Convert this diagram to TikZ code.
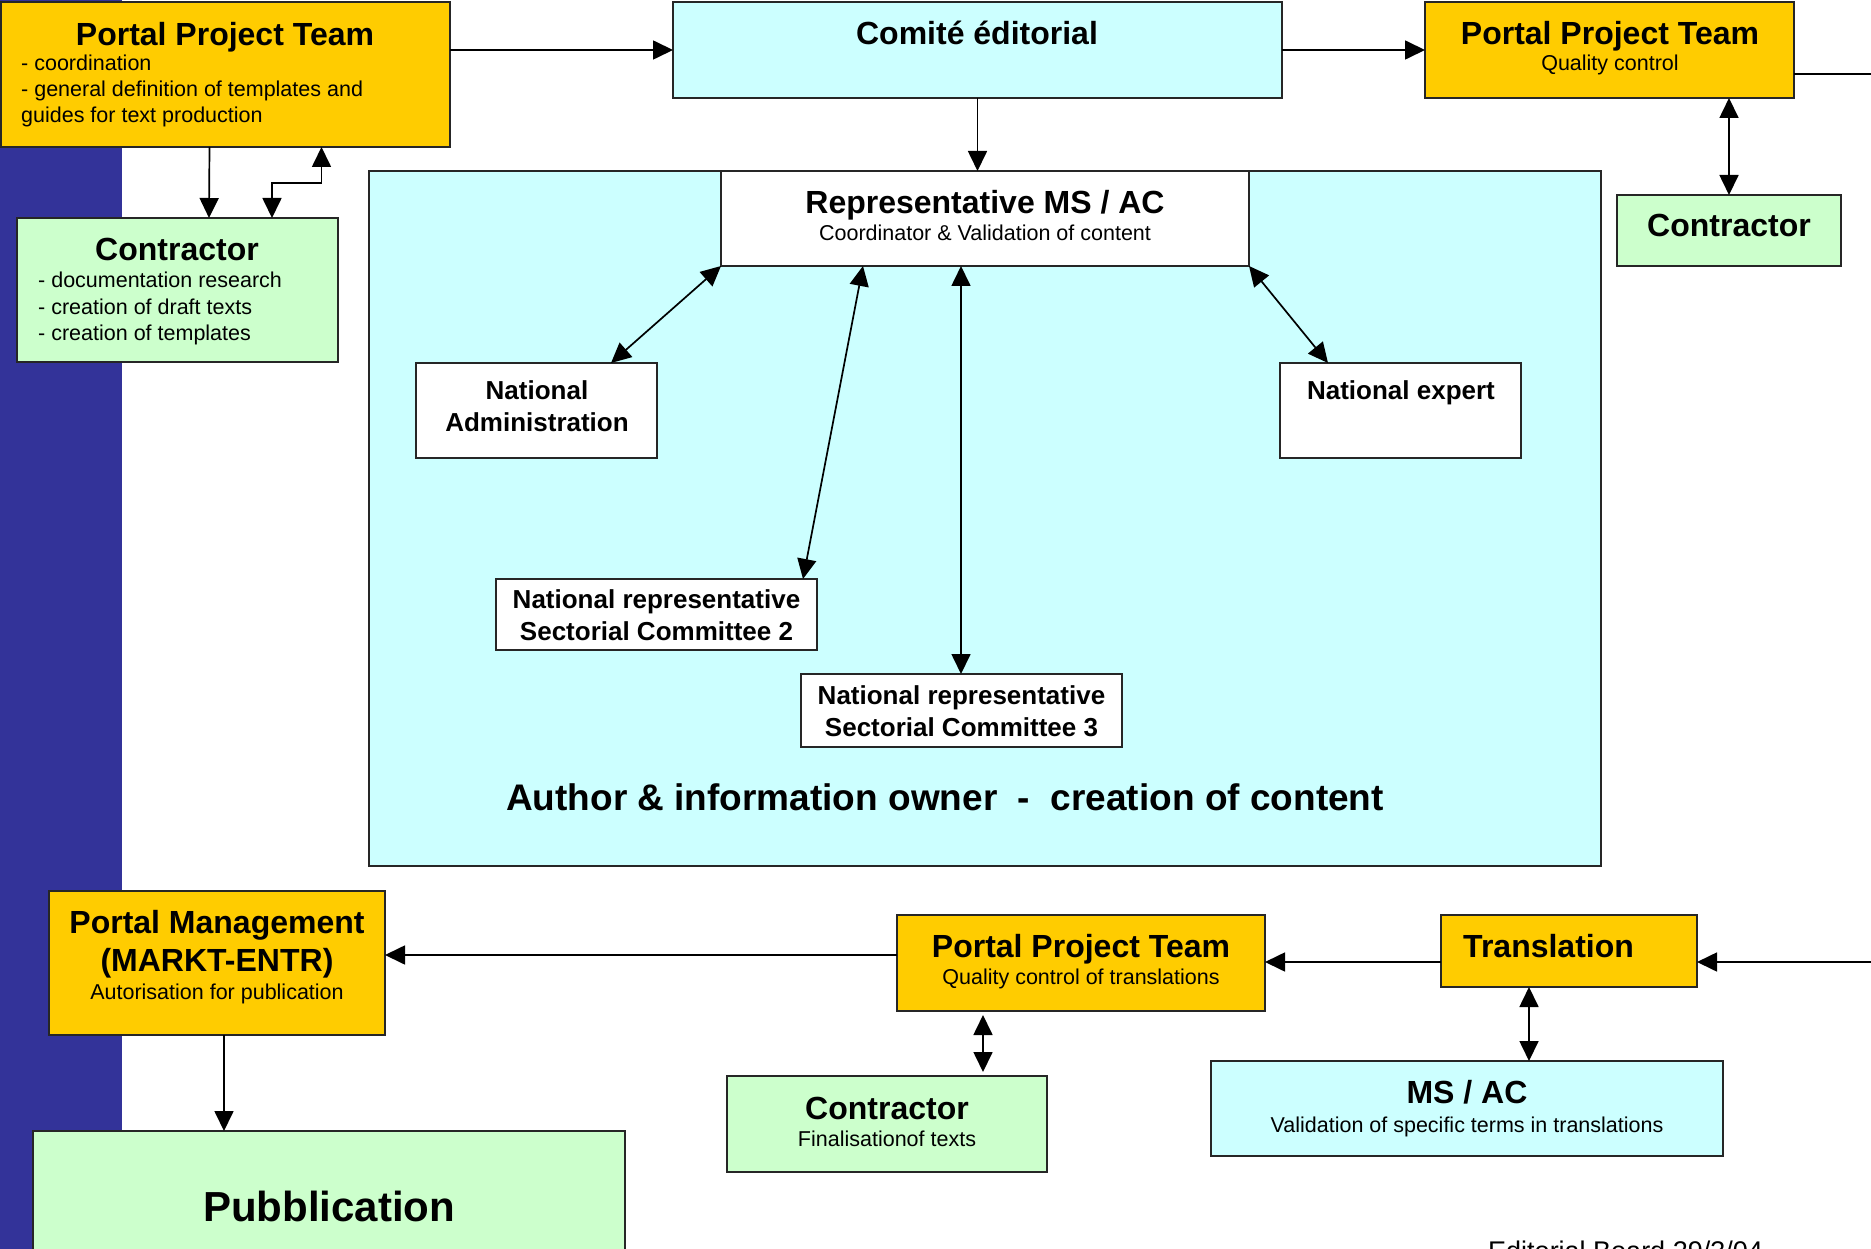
\documentclass[tikz,border=0pt]{standalone}
\usepackage{fontspec}
\setmainfont{Liberation Sans}
\usetikzlibrary{arrows.meta}
\definecolor{gold}{HTML}{FFCC00}
\definecolor{cyanl}{HTML}{CCFFFF}
\definecolor{greenl}{HTML}{CCFFCC}
\definecolor{barblue}{HTML}{333399}
\newcommand{\FtT}{\fontsize{32}{36}\selectfont\bfseries}
\newcommand{\FtS}{\fontsize{21.5}{25}\selectfont}
\newcommand{\FtN}{\fontsize{26}{30}\selectfont\bfseries}
\newcommand{\FtA}{\fontsize{37}{42}\selectfont\bfseries}
\newcommand{\FtP}{\fontsize{42}{48}\selectfont\bfseries}
\newcommand{\FtF}{\fontsize{27}{30}\selectfont}
\newcommand{\Bx}[6]{\node[#6, anchor=north west, minimum width={(#4-#2)*1pt}, minimum height={(#5-#3)*1pt}] (#1) at (#2,#3) {};}
\begin{document}
\begin{tikzpicture}[x=1pt,y=-1pt,
  box/.style={draw=black!85, line width=2pt, inner sep=0pt, outer sep=0pt},
  gbox/.style={box, fill=gold}, cbox/.style={box, fill=cyanl},
  lbox/.style={box, fill=greenl}, wbox/.style={box, fill=white},
  lbl/.style={inner sep=0pt, anchor=base},
  lbw/.style={inner sep=0pt, anchor=base west},
  con/.style={line width=1.7pt, draw=black},
  arr/.style={con, -{Triangle[length=20pt,width=19pt]}},
  darr/.style={con, {Triangle[length=20pt,width=19pt]}-{Triangle[length=20pt,width=19pt]}}]
\useasboundingbox (0,0) rectangle (1871,1249);
\clip (0,0) rectangle (1871,1249);
\fill[barblue] (0,0) rectangle (122,1249);

% boxes
\Bx{big}{369}{171}{1601}{866}{cbox}
\Bx{ppta}{1}{2}{450}{147}{gbox}
\Bx{com}{673}{2}{1282}{98}{cbox}
\Bx{pptb}{1425}{2}{1794}{98}{gbox}
\Bx{ctl}{17}{218}{338}{362}{lbox}
\Bx{ctr}{1617}{195}{1841}{266}{lbox}
\Bx{rep}{721}{171}{1249}{266}{wbox}
\Bx{na}{416}{363}{657}{458}{wbox}
\Bx{ne}{1280}{363}{1521}{458}{wbox}
\Bx{sca}{496}{579}{817}{650}{wbox}
\Bx{scb}{801}{674}{1122}{747}{wbox}
\Bx{pm}{49}{891}{385}{1035}{gbox}
\Bx{pptc}{897}{915}{1265}{1011}{gbox}
\Bx{tr}{1441}{915}{1697}{987}{gbox}
\Bx{cb}{727}{1076}{1047}{1172}{lbox}
\Bx{ms}{1211}{1061}{1723}{1156}{cbox}
\Bx{pub}{33}{1131}{625}{1280}{lbox}

% texts
\node[lbl] (ppta-t) at (225,46) {\FtT Portal Project Team};
\node[lbw] (ppta-a) at (21,71) {\FtS - coordination};
\node[lbw] (ppta-b) at (21,97) {\FtS - general definition of templates and};
\node[lbw] (ppta-c) at (21,123) {\FtS guides for text production};

\node[lbl] (com-t) at (977,45) {\FtT Comité éditorial};

\node[lbl] (pptb-t) at (1610,45) {\FtT Portal Project Team};
\node[lbl] (pptb-s) at (1610,71) {\FtS Quality control};

\node[lbl] (ctl-t) at (177,261) {\FtT Contractor};
\node[lbw] (ctl-a) at (38,288) {\FtS - documentation research};
\node[lbw] (ctl-b) at (38,314) {\FtS - creation of draft texts};
\node[lbw] (ctl-c) at (38,340) {\FtS - creation of templates};

\node[lbl] (ctr-t) at (1729,237) {\FtT Contractor};

\node[lbl] (rep-t) at (985,214) {\FtT Representative MS / AC};
\node[lbl] (rep-s) at (985,241) {\FtS Coordinator \& Validation of content};

\node[lbl] (na-a) at (537,399) {\FtN National};
\node[lbl] (na-b) at (537,431) {\FtN Administration};
\node[lbl] (ne-t) at (1401,399) {\FtN National expert};
\node[lbl] (sca-a) at (656.5,608) {\FtN National representative};
\node[lbl] (sca-b) at (656.5,640) {\FtN Sectorial Committee 2};
\node[lbl] (scb-a) at (961.5,704) {\FtN National representative};
\node[lbl] (scb-b) at (961.5,736) {\FtN Sectorial Committee 3};

\node[lbl] (auth) at (945,810) {\FtA Author \& information owner\ \ -\ \ creation of content};

\node[lbl] (pm-a) at (217,933) {\FtT Portal Management};
\node[lbl] (pm-b) at (217,971) {\FtT (MARKT-ENTR)};
\node[lbl] (pm-s) at (217,999) {\FtS Autorisation for publication};

\node[lbl] (pptc-t) at (1081,957) {\FtT Portal Project Team};
\node[lbl] (pptc-s) at (1081,984) {\FtS Quality control of translations};

\node[lbw] (tr-t) at (1463,957) {\FtT Translation};

\node[lbl] (cb-t) at (887,1119) {\FtT Contractor};
\node[lbl] (cb-s) at (887,1146) {\FtS Finalisationof texts};

\node[lbl] (ms-t) at (1467,1103) {\FtT MS / AC};
\node[lbl] (ms-s) at (1467,1132) {\FtS Validation of specific terms in translations};

\node[lbl] (pub-t) at (329,1221) {\FtP Pubblication};

\node[lbw] (foot) at (1488,1260) {\FtF Editorial Board 29/3/04};

% connectors
\coordinate (redgeA) at (1871,74);
\coordinate (redgeB) at (1871,962);
\draw[arr] (com.west -| ppta.east) -- (com.west);
\draw[arr] (com.east) -- (pptb.west);
\draw[con] ([yshift=-24pt]pptb.east) -- (redgeA);
\draw[arr] (com.south) -- (com.south |- rep.north);
\draw[arr] ([xshift=-16pt]ppta.south) -- ([xshift=31.5pt]ctl.north);
\draw[darr] ([xshift=94.5pt]ctl.north) -- ++(0,-35) -| ([xshift=96pt]ppta.south);
\draw[darr] ([xshift=119.5pt]pptb.south) -- (ctr.north);
\draw[darr] (rep.south west) -- ([xshift=74.5pt]na.north);
\draw[darr] ([xshift=-122pt]rep.south) -- ([xshift=146.5pt]sca.north);
\draw[darr] ([xshift=-24pt]rep.south) -- ([xshift=-0.5pt]scb.north);
\draw[darr] (rep.south east) -- ([xshift=-72.5pt]ne.north);
\draw[arr] (redgeB) -- (redgeB -| tr.east);
\draw[arr] (redgeB -| tr.west) -- (redgeB -| pptc.east);
\draw[arr] ([yshift=8pt]pptc.west) -- ([yshift=8pt]pptc.west -| pm.east);
\draw[darr] ([xshift=-40pt]tr.south) -- ([xshift=62pt]ms.north);
\draw[darr] ([xshift=-98pt,yshift=-4pt]pptc.south) -- ([xshift=96pt,yshift=4pt]cb.north);
\draw[arr] ([xshift=7pt]pm.south) -- ([xshift=-105pt]pub.north);
\end{tikzpicture}
\end{document}
